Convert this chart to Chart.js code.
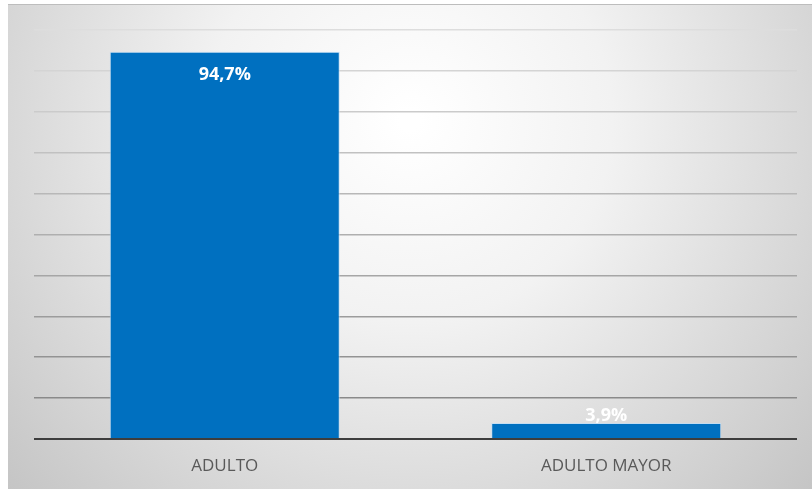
<!DOCTYPE html>
<html>
<head>
<meta charset="utf-8">
<script src="https://cdn.jsdelivr.net/npm/chart.js@4/dist/chart.umd.min.js"></script>
<style>
html,body{margin:0;padding:0;background:#fff;}
#wrap{width:812px;height:489px;position:relative;}
</style>
</head>
<body>
<div id="wrap"><canvas id="c" width="812" height="489"></canvas></div>
<script>
const categories = ["ADULTO", "ADULTO MAYOR"];
const values = [94.7, 3.9];
const valueLabels = ["94,7%", "3,9%"];
const yMax = 100;
const yStep = 10;

const bgPlugin = {
  id: 'bg',
  beforeDraw(chart) {
    const ctx = chart.ctx;
    ctx.save();
    ctx.fillStyle = '#ffffff';
    ctx.fillRect(0, 0, chart.width, chart.height);
    const g = ctx.createRadialGradient(410, 120, 10, 410, 120, 560);
    g.addColorStop(0, '#ffffff');
    g.addColorStop(0.35, '#f2f2f2');
    g.addColorStop(1, '#c3c3c3');
    ctx.fillStyle = g;
    ctx.fillRect(8, 4, 804, 485);
    ctx.strokeStyle = '#bdbdbd';
    ctx.lineWidth = 1;
    ctx.beginPath();
    ctx.moveTo(8, 4.5); ctx.lineTo(812, 4.5);
    ctx.stroke();
    ctx.restore();
  }
};

const labelPlugin = {
  id: 'vlabels',
  afterDatasetsDraw(chart) {
    const ctx = chart.ctx;
    const meta = chart.getDatasetMeta(0);
    const area = chart.chartArea;
    ctx.save();
    ctx.strokeStyle = '#3d3d3d';
    ctx.lineWidth = 2;
    ctx.beginPath();
    ctx.moveTo(area.left, area.bottom);
    ctx.lineTo(area.right, area.bottom);
    ctx.stroke();
    ctx.font = 'bold 18px "Open Sans", "Liberation Sans", sans-serif';
    ctx.fillStyle = '#ffffff';
    ctx.textAlign = 'center';
    ctx.textBaseline = 'middle';
    meta.data.forEach((bar, i) => {
      const h = bar.base - bar.y;
      const y = h > 46 ? bar.y + 23 : bar.base - 22;
      ctx.fillText(valueLabels[i], bar.x, y);
    });
    ctx.restore();
  }
};

function lerpGray(t) {
  const a = 0x8a, b = 0xdd;
  const v = Math.round(a + (b - a) * t);
  return 'rgb(' + v + ',' + v + ',' + v + ')';
}

new Chart(document.getElementById('c'), {
  type: 'bar',
  data: {
    labels: categories,
    datasets: [{
      data: values,
      backgroundColor: '#0070C0',
      borderColor: 'rgba(190,220,245,0.8)',
      borderWidth: {top: 1, left: 1, right: 1, bottom: 0},
      borderSkipped: 'bottom',
      barPercentage: 0.603,
      categoryPercentage: 1.0
    }]
  },
  options: {
    responsive: false,
    animation: false,
    devicePixelRatio: 1,
    layout: { padding: { left: 34, right: 15, top: 30, bottom: 0 } },
    plugins: { legend: { display: false }, tooltip: { enabled: false } },
    scales: {
      x: {
        grid: { display: false, drawTicks: false },
        border: { display: false },
        ticks: {
          padding: 17,
          color: '#595959',
          font: { family: '"Open Sans", "Liberation Sans", sans-serif', size: 17 }
        },
        afterFit(s) { s.height = 50; }
      },
      y: {
        min: 0,
        max: yMax,
        ticks: { display: false, stepSize: yStep },
        border: { display: false },
        grid: {
          drawTicks: false,
          lineWidth: 1.5,
          color(ctx) {
            const i = ctx.index;
            if (i === 0) return 'rgba(0,0,0,0)';
            return lerpGray((i - 1) / 9);
          }
        },
        afterFit(s) { s.width = 0; }
      }
    }
  },
  plugins: [bgPlugin, labelPlugin]
});
</script>
</body>
</html>
